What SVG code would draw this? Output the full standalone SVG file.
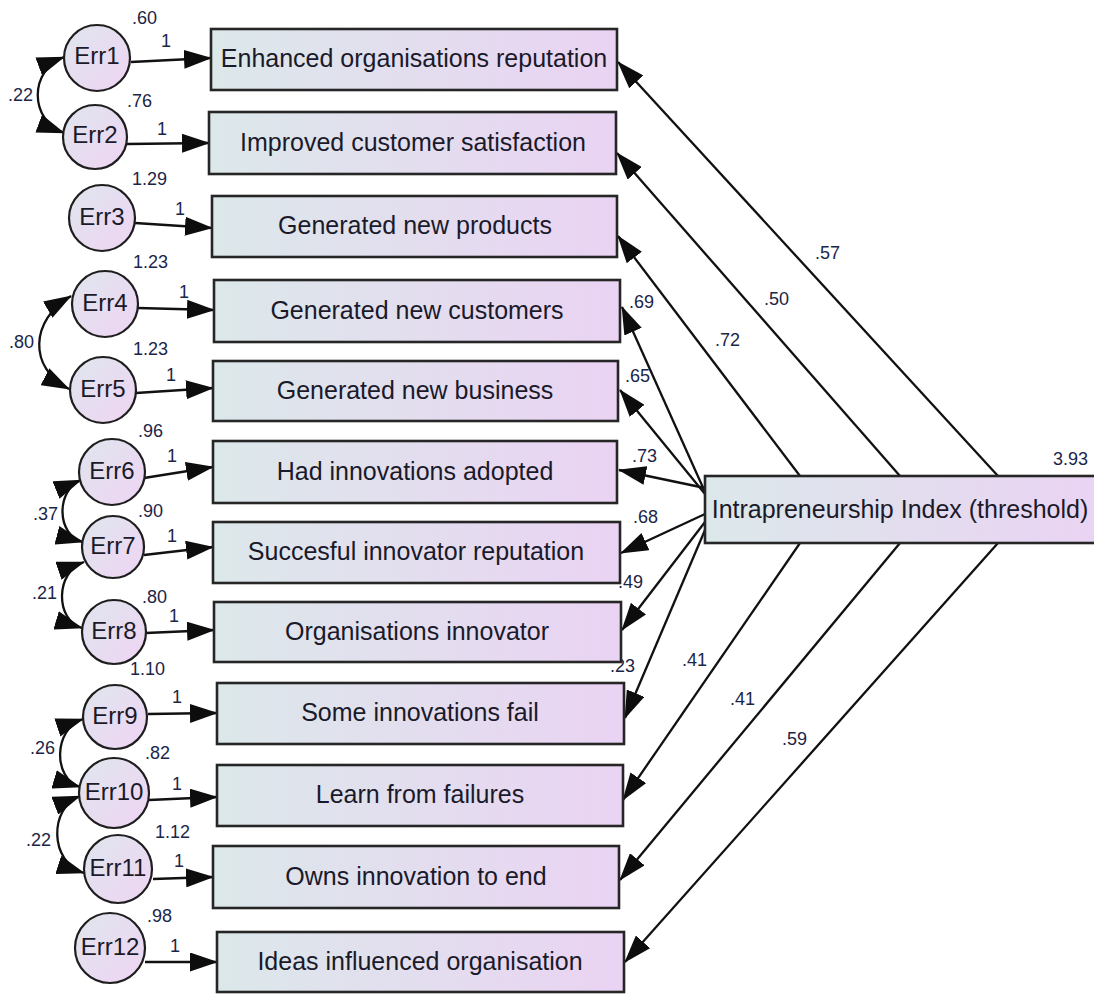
<svg xmlns="http://www.w3.org/2000/svg" width="1094" height="994" viewBox="0 0 1094 994">
  <defs>
    <linearGradient id="boxFill" x1="0" y1="0" x2="1" y2="0">
      <stop offset="0" stop-color="#dce8ea"/>
      <stop offset="1" stop-color="#ead3f3"/>
    </linearGradient>
    <linearGradient id="errFill" x1="0" y1="0" x2="1" y2="1">
      <stop offset="0" stop-color="#dfe6ee"/>
      <stop offset="1" stop-color="#efd4f3"/>
    </linearGradient>
    <marker id="ah" viewBox="0 0 28 19" refX="27" refY="9.5" markerWidth="28" markerHeight="19" markerUnits="userSpaceOnUse" orient="auto-start-reverse">
      <path d="M0,0 L28,9.5 L0,19 z" fill="#0d0d0d"/>
    </marker>
    <style>
      .box { fill: url(#boxFill); stroke: #262626; stroke-width: 2.6; }
      .err { fill: url(#errFill); stroke: #1e1e1e; stroke-width: 2.2; }
      .lbl { font-family: "Liberation Sans", Arial, sans-serif; font-size: 25px; fill: #1a1a2a; text-anchor: middle; }
      .elbl { font-family: "Liberation Sans", Arial, sans-serif; font-size: 24px; fill: #1a1a2a; text-anchor: middle; }
      .num { font-family: "Liberation Sans", Arial, sans-serif; font-size: 18px; fill: #1b2548; }
      .edge { fill: none; stroke: #111; stroke-width: 2.3; marker-end: url(#ah); }
      .cov { fill: none; stroke: #111; stroke-width: 2.3; marker-start: url(#ah); marker-end: url(#ah); }
    </style>
  </defs>

  <rect width="1094" height="994" fill="#ffffff"/>

  <!-- paths, loadings and covariances -->
  <g id="connectors">
    <!-- index to indicators -->
    <path class="edge" d="M998,476 L618,62"/>
    <path class="edge" d="M900,476 L617,153"/>
    <path class="edge" d="M800,476 L618,236"/>
    <path class="edge" d="M705,492 L622,307"/>
    <path class="edge" d="M705,494 L620,390"/>
    <path class="edge" d="M705,488 L619,470"/>
    <path class="edge" d="M705,514 L621,553"/>
    <path class="edge" d="M705,522 L622,630"/>
    <path class="edge" d="M705,530 L625,718"/>
    <path class="edge" d="M800,543 L623,800"/>
    <path class="edge" d="M900,543 L620,880"/>
    <path class="edge" d="M998,543 L625,962"/>

    <!-- error terms to indicators -->
    <path class="edge" d="M131,62 L211,58"/>
    <path class="edge" d="M127,144 L209,143"/>
    <path class="edge" d="M135,223 L212,228"/>
    <path class="edge" d="M138,308 L214,310"/>
    <path class="edge" d="M136,393 L213,388"/>
    <path class="edge" d="M144,478 L213,467"/>
    <path class="edge" d="M144,555 L213,547"/>
    <path class="edge" d="M146,633 L214,630"/>
    <path class="edge" d="M148,714 L217,713"/>
    <path class="edge" d="M149,800 L217,797"/>
    <path class="edge" d="M153,879 L213,877"/>
    <path class="edge" d="M145,962 L217,962"/>

    <!-- error covariances -->
    <path class="cov" d="M64,57 C29,70 29,120 64,133"/>
    <path class="cov" d="M71,296 C30,320 28,368 69,389"/>
    <path class="cov" d="M81,480 C56,490 56,535 83,542"/>
    <path class="cov" d="M84,562 C55,572 55,620 82,628"/>
    <path class="cov" d="M83,719 C53,729 53,779 80,787"/>
    <path class="cov" d="M80,796 C49,808 49,862 84,873"/>

    <!-- coefficients -->
    <text class="num" x="815" y="259">.57</text>
    <text class="num" x="764" y="305">.50</text>
    <text class="num" x="715" y="346">.72</text>
    <text class="num" x="629" y="308">.69</text>
    <text class="num" x="625" y="382">.65</text>
    <text class="num" x="632" y="462">.73</text>
    <text class="num" x="633" y="523">.68</text>
    <text class="num" x="618" y="588">.49</text>
    <text class="num" x="610" y="672">.23</text>
    <text class="num" x="682" y="666">.41</text>
    <text class="num" x="730" y="705">.41</text>
    <text class="num" x="782" y="745">.59</text>
    <text class="num" x="1053" y="465">3.93</text>

    <text class="num" x="8" y="101">.22</text>
    <text class="num" x="9" y="348">.80</text>
    <text class="num" x="33" y="520">.37</text>
    <text class="num" x="32" y="599">.21</text>
    <text class="num" x="30" y="754">.26</text>
    <text class="num" x="26" y="846">.22</text>

    <text class="num" x="132" y="24">.60</text>
    <text class="num" x="161" y="47">1</text>
    <text class="num" x="127" y="107">.76</text>
    <text class="num" x="157" y="135">1</text>
    <text class="num" x="132" y="185">1.29</text>
    <text class="num" x="175" y="215">1</text>
    <text class="num" x="133" y="268">1.23</text>
    <text class="num" x="179" y="298">1</text>
    <text class="num" x="133" y="355">1.23</text>
    <text class="num" x="166" y="381">1</text>
    <text class="num" x="138" y="437">.96</text>
    <text class="num" x="167" y="462">1</text>
    <text class="num" x="138" y="517">.90</text>
    <text class="num" x="167" y="542">1</text>
    <text class="num" x="142" y="603">.80</text>
    <text class="num" x="169" y="622">1</text>
    <text class="num" x="130" y="675">1.10</text>
    <text class="num" x="172" y="703">1</text>
    <text class="num" x="145" y="759">.82</text>
    <text class="num" x="172" y="790">1</text>
    <text class="num" x="155" y="838">1.12</text>
    <text class="num" x="174" y="867">1</text>
    <text class="num" x="147" y="922">.98</text>
    <text class="num" x="170" y="952">1</text>
  </g>

  <!-- latent index -->
  <g id="index">
    <rect class="box" x="705" y="476" width="395" height="67"/>
    <text class="lbl" x="900" y="518">Intrapreneurship Index (threshold)</text>
  </g>

  <!-- observed indicators -->
  <g id="ind1"><rect class="box" x="211" y="29" width="406" height="61"/><text class="lbl" x="414" y="67">Enhanced organisations reputation</text></g>
  <g id="ind2"><rect class="box" x="209" y="112" width="407" height="62"/><text class="lbl" x="413" y="151">Improved customer satisfaction</text></g>
  <g id="ind3"><rect class="box" x="212" y="196" width="405" height="61"/><text class="lbl" x="415" y="234">Generated new products</text></g>
  <g id="ind4"><rect class="box" x="214" y="280" width="406" height="62"/><text class="lbl" x="417" y="319">Generated new customers</text></g>
  <g id="ind5"><rect class="box" x="213" y="361" width="405" height="60"/><text class="lbl" x="415" y="399">Generated new business</text></g>
  <g id="ind6"><rect class="box" x="213" y="441" width="404" height="62"/><text class="lbl" x="415" y="480">Had innovations adopted</text></g>
  <g id="ind7"><rect class="box" x="213" y="522" width="407" height="61"/><text class="lbl" x="416" y="560">Succesful innovator reputation</text></g>
  <g id="ind8"><rect class="box" x="214" y="602" width="407" height="60"/><text class="lbl" x="417" y="640">Organisations innovator</text></g>
  <g id="ind9"><rect class="box" x="217" y="683" width="407" height="61"/><text class="lbl" x="420" y="721">Some innovations fail</text></g>
  <g id="ind10"><rect class="box" x="217" y="765" width="406" height="61"/><text class="lbl" x="420" y="803">Learn from failures</text></g>
  <g id="ind11"><rect class="box" x="213" y="846" width="406" height="62"/><text class="lbl" x="416" y="885">Owns innovation to end</text></g>
  <g id="ind12"><rect class="box" x="217" y="932" width="407" height="60"/><text class="lbl" x="420" y="970">Ideas influenced organisation</text></g>

  <!-- error terms -->
  <g id="err1"><circle class="err" cx="97" cy="58" r="33"/><text class="elbl" x="97" y="64">Err1</text></g>
  <g id="err2"><circle class="err" cx="95" cy="137" r="32"/><text class="elbl" x="95" y="143">Err2</text></g>
  <g id="err3"><circle class="err" cx="102" cy="218" r="33"/><text class="elbl" x="102" y="225">Err3</text></g>
  <g id="err4"><circle class="err" cx="105" cy="304" r="33"/><text class="elbl" x="105" y="311">Err4</text></g>
  <g id="err5"><circle class="err" cx="103" cy="390" r="33"/><text class="elbl" x="103" y="397">Err5</text></g>
  <g id="err6"><circle class="err" cx="112" cy="472" r="33"/><text class="elbl" x="112" y="479">Err6</text></g>
  <g id="err7"><circle class="err" cx="113" cy="547" r="31"/><text class="elbl" x="113" y="554">Err7</text></g>
  <g id="err8"><circle class="err" cx="114" cy="632" r="32"/><text class="elbl" x="114" y="639">Err8</text></g>
  <g id="err9"><circle class="err" cx="115" cy="717" r="32"/><text class="elbl" x="115" y="724">Err9</text></g>
  <g id="err10"><circle class="err" cx="114" cy="793" r="35"/><text class="elbl" x="114" y="800">Err10</text></g>
  <g id="err11"><circle class="err" cx="118" cy="869" r="34"/><text class="elbl" x="118" y="876">Err11</text></g>
  <g id="err12"><circle class="err" cx="110" cy="948" r="35"/><text class="elbl" x="110" y="955">Err12</text></g>
</svg>
